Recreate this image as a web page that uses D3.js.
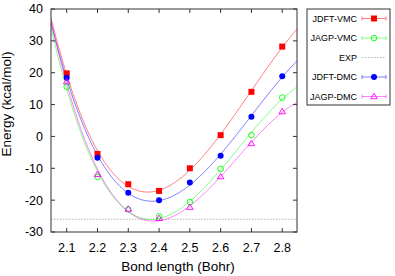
<!DOCTYPE html>
<meta charset="utf-8">
<style>
body { margin: 0; background: #fff; }
svg { font-family: "Liberation Sans", Arial, sans-serif; }
.tick-label { font-size: 12.5px; fill: #000; }
.axis-title { font-size: 13.5px; fill: #000; }
.legend text { font-size: 9px; fill: #000; }
</style>
<svg width="395" height="276"></svg>
<script src="https://d3js.org/d3.v7.min.js"></script>
<script>

var bond = [2.1, 2.2, 2.3, 2.4, 2.5, 2.6, 2.7, 2.8];

var jdftVmc = [19.8, -5.5, -15.0, -17.1, -10.0, 0.4, 14.0, 28.2];
var jagpVmc = [15.6, -12.7, -22.9, -25.1, -20.6, -10.2, 0.4, 12.2];
var jdftDmc = [18.4, -6.7, -17.7, -20.0, -14.5, -6.1, 6.2, 18.9];
var jagpDmc = [17.2, -11.9, -22.8, -25.7, -22.2, -12.6, -2.2, 7.8];

var expEnergy = -26.0;

var xTicks = [2.1, 2.2, 2.3, 2.4, 2.5, 2.6, 2.7, 2.8];
var yTicks = [-30, -20, -10, 0, 10, 20, 30, 40];

var svg = d3.select("svg"),
    margin = {top: 9, right: 98, bottom: 44, left: 51},
    width = +svg.attr("width") - margin.left - margin.right,
    height = +svg.attr("height") - margin.top - margin.bottom;

var x = d3.scaleLinear().domain([2.049, 2.848]).range([0, width]);
var y = d3.scaleLinear().domain([-30, 40]).range([height, 0]);

var series = [
  {name: "JDFT-VMC", values: jdftVmc, color: "#ff0000", symbol: "square"},
  {name: "JAGP-VMC", values: jagpVmc, color: "#00ff00", symbol: "circleOpen"},
  {name: "EXP", color: "#a0a0a0", symbol: null},
  {name: "JDFT-DMC", values: jdftDmc, color: "#0000ff", symbol: "circle"},
  {name: "JAGP-DMC", values: jagpDmc, color: "#ff00ff", symbol: "triangleOpen"}
];

var g = svg.append("g")
    .attr("transform", "translate(" + margin.left + "," + margin.top + ")");

svg.append("defs").append("clipPath").attr("id", "clip")
  .append("rect").attr("width", width).attr("height", height);

// least squares cubic through the points (the fitted curves)
function fitCubic(xs, ys) {
  var n = 4, A = [], b = [];
  for (var i = 0; i < n; i++) { A.push([0, 0, 0, 0]); b.push(0); }
  xs.forEach(function(xv, k) {
    var t = xv - 2.45;
    for (var i = 0; i < n; i++) {
      b[i] += ys[k] * Math.pow(t, i);
      for (var j = 0; j < n; j++) A[i][j] += Math.pow(t, i + j);
    }
  });
  for (var c = 0; c < n; c++) {
    for (var r = c + 1; r < n; r++) {
      var f = A[r][c] / A[c][c];
      for (var j = c; j < n; j++) A[r][j] -= f * A[c][j];
      b[r] -= f * b[c];
    }
  }
  var coef = [0, 0, 0, 0];
  for (var r = n - 1; r >= 0; r--) {
    var s = b[r];
    for (var j = r + 1; j < n; j++) s -= A[r][j] * coef[j];
    coef[r] = s / A[r][r];
  }
  return function(xv) {
    var t = xv - 2.45;
    return coef[0] + coef[1] * t + coef[2] * t * t + coef[3] * t * t * t;
  };
}

var line = d3.line()
    .x(function(d) { return x(d[0]); })
    .y(function(d) { return y(d[1]); });

var plot = g.append("g").attr("clip-path", "url(#clip)");

// EXP reference line
plot.append("line")
    .attr("x1", 0).attr("x2", width)
    .attr("y1", y(expEnergy)).attr("y2", y(expEnergy))
    .attr("stroke", "#a0a0a0")
    .attr("stroke-width", 0.8)
    .attr("stroke-dasharray", "1.5,1.5");

series.filter(function(s) { return s.values; }).forEach(function(s) {
  var f = fitCubic(bond, s.values);
  var pts = d3.range(0, 201).map(function(i) {
    var xv = x.domain()[0] + (x.domain()[1] - x.domain()[0]) * i / 200;
    return [xv, f(xv)];
  });
  plot.append("path")
      .attr("d", line(pts))
      .attr("fill", "none")
      .attr("stroke", s.color)
      .attr("stroke-opacity", 0.5)
      .attr("stroke-width", 1);
});

function drawSymbol(sel, s, cx, cy) {
  if (s.symbol === "square") {
    sel.append("rect").attr("x", cx - 3).attr("y", cy - 3)
        .attr("width", 6).attr("height", 6).attr("fill", s.color);
  } else if (s.symbol === "circle") {
    sel.append("circle").attr("cx", cx).attr("cy", cy).attr("r", 3)
        .attr("fill", s.color);
  } else if (s.symbol === "circleOpen") {
    sel.append("circle").attr("cx", cx).attr("cy", cy).attr("r", 2.8)
        .attr("fill", "none").attr("stroke", s.color).attr("stroke-width", 0.9);
  } else if (s.symbol === "triangleOpen") {
    sel.append("path")
        .attr("d", "M" + cx + "," + (cy - 3.2) + "L" + (cx + 3.3) + "," + (cy + 2.2) +
              "L" + (cx - 3.3) + "," + (cy + 2.2) + "Z")
        .attr("fill", "none").attr("stroke", s.color).attr("stroke-width", 0.9);
  }
}

series.filter(function(s) { return s.values; }).forEach(function(s) {
  var pg = g.append("g");
  s.values.forEach(function(v, i) {
    drawSymbol(pg, s, x(bond[i]), y(v));
  });
});

// frame
g.append("rect")
    .attr("width", width).attr("height", height)
    .attr("fill", "none").attr("stroke", "#333").attr("stroke-width", 1);

// ticks (inward on all sides)
var tl = 4;
xTicks.forEach(function(t) {
  g.append("line").attr("x1", x(t)).attr("x2", x(t)).attr("y1", height).attr("y2", height - tl).attr("stroke", "#333");
  g.append("line").attr("x1", x(t)).attr("x2", x(t)).attr("y1", 0).attr("y2", tl).attr("stroke", "#333");
  g.append("text").attr("class", "tick-label")
      .attr("x", x(t)).attr("y", height + 19.5)
      .attr("text-anchor", "middle").text(d3.format(".1f")(t));
});
yTicks.forEach(function(t) {
  g.append("line").attr("x1", 0).attr("x2", tl).attr("y1", y(t)).attr("y2", y(t)).attr("stroke", "#333");
  g.append("line").attr("x1", width).attr("x2", width - tl).attr("y1", y(t)).attr("y2", y(t)).attr("stroke", "#333");
  g.append("text").attr("class", "tick-label")
      .attr("x", -8).attr("y", y(t)).attr("dy", "0.35em")
      .attr("text-anchor", "end").text(t);
});

svg.append("text")
    .attr("class", "axis-title")
    .attr("transform", "translate(11,104) rotate(-90)")
    .attr("text-anchor", "middle")
    .text("Energy (kcal/mol)");

svg.append("text")
    .attr("class", "axis-title")
    .attr("x", margin.left + width / 2 + 4).attr("y", 271)
    .attr("text-anchor", "middle")
    .text("Bond length (Bohr)");

// legend
var legend = svg.append("g").attr("class", "legend")
    .attr("transform", "translate(307,9)");

legend.append("rect")
    .attr("width", 83).attr("height", 96)
    .attr("fill", "#fff").attr("stroke", "#333").attr("stroke-width", 1);

series.forEach(function(s, i) {
  var ly = 9.5 + i * 19.5;
  legend.append("text").attr("x", 50).attr("y", ly).attr("dy", "0.35em")
      .attr("text-anchor", "end").text(s.name);
  if (s.symbol) {
    legend.append("line").attr("x1", 55).attr("x2", 79).attr("y1", ly).attr("y2", ly)
        .attr("stroke", s.color).attr("stroke-opacity", 0.5);
    [55, 79].forEach(function(ex) {
      legend.append("line").attr("x1", ex).attr("x2", ex).attr("y1", ly - 2).attr("y2", ly + 2)
          .attr("stroke", s.color).attr("stroke-opacity", 0.5);
    });
    drawSymbol(legend, s, 67, ly);
  } else {
    legend.append("line").attr("x1", 55).attr("x2", 79).attr("y1", ly).attr("y2", ly)
        .attr("stroke", s.color).attr("stroke-width", 0.8).attr("stroke-dasharray", "1.5,1.5");
  }
});

</script>
